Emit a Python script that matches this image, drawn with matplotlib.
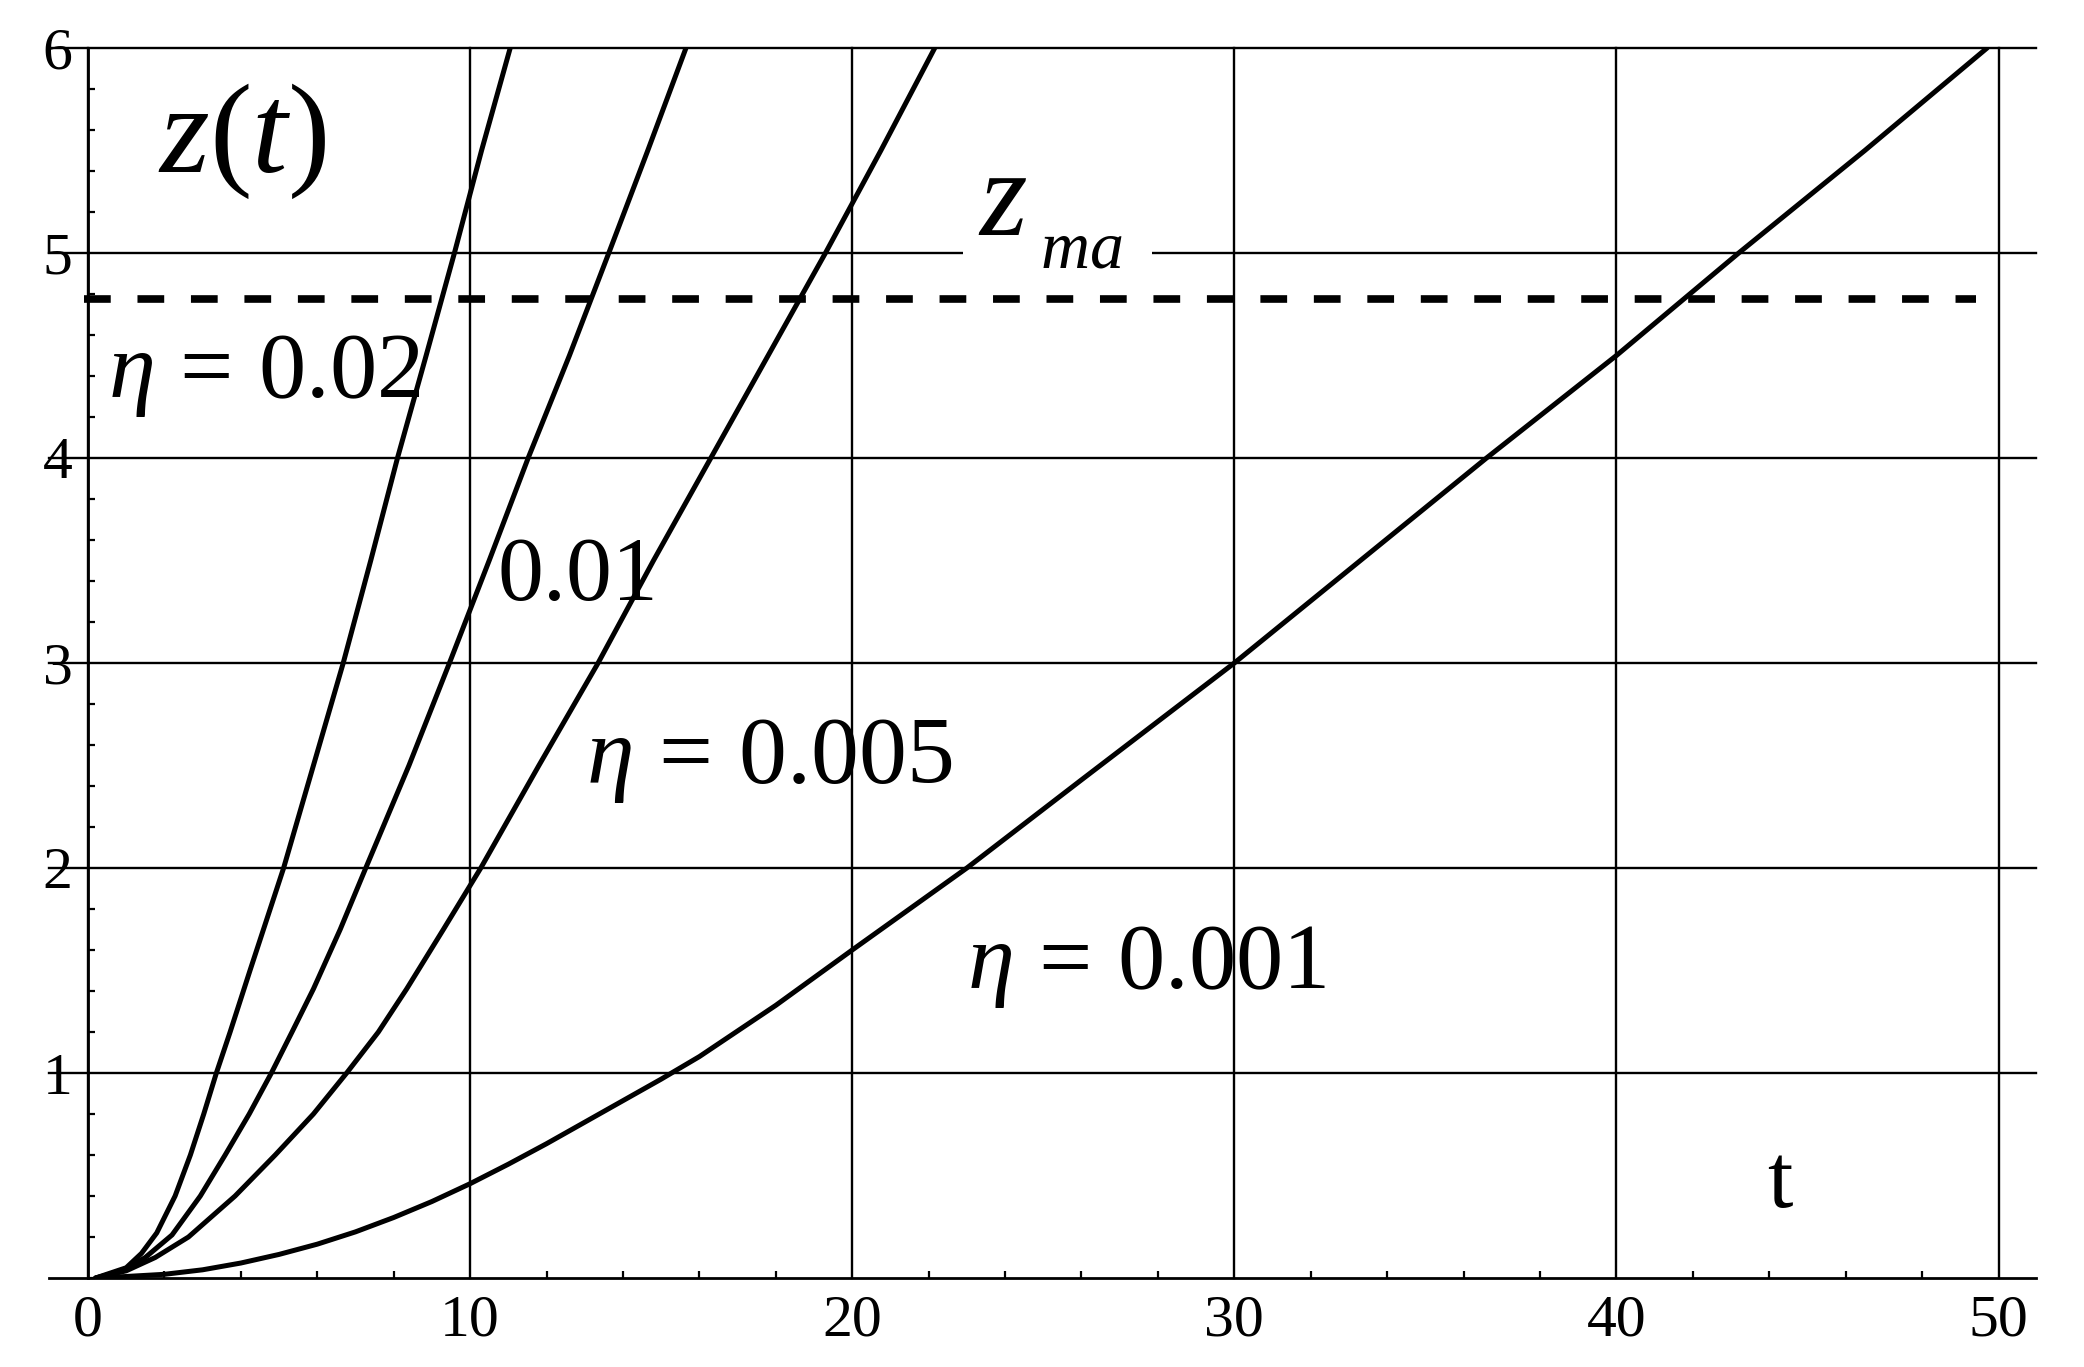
import matplotlib
matplotlib.use('Agg')
import matplotlib.pyplot as plt
from matplotlib.ticker import MultipleLocator
from matplotlib.patches import Rectangle

plt.rcParams['font.family'] = ['Liberation Serif', 'DejaVu Serif']
plt.rcParams['mathtext.fontset'] = 'custom'
plt.rcParams['mathtext.rm'] = 'Liberation Serif'
plt.rcParams['mathtext.it'] = 'Liberation Serif:italic'
plt.rcParams['mathtext.bf'] = 'Liberation Serif:bold'

# ---- data ----
t_eta002 = [0.2, 1.0, 1.4, 1.8, 2.28, 2.68, 3.03, 3.36, 3.72, 4.24, 5.12, 5.9, 6.68, 7.4, 8.1, 8.85, 9.59, 10.3, 11.05]
z_eta002 = [0.0, 0.05, 0.12, 0.22, 0.4, 0.6, 0.8, 1.0, 1.2, 1.5, 2.0, 2.5, 3.0, 3.5, 4.0, 4.5, 5.0, 5.5, 6.0]

t_eta001 = [0.2, 0.9, 1.5, 2.2, 2.94, 3.59, 4.22, 4.8, 5.34, 5.9, 6.6, 7.27, 8.4, 9.46, 10.5, 11.52, 12.6, 13.63, 14.65, 15.65]
z_eta001 = [0.0, 0.035, 0.1, 0.21, 0.4, 0.6, 0.8, 1.0, 1.2, 1.41, 1.7, 2.0, 2.5, 3.0, 3.5, 4.0, 4.5, 5.0, 5.5, 6.0]

t_eta0005 = [0.2, 1.0, 1.76, 2.63, 3.85, 4.9, 5.9, 6.77, 7.6, 8.34, 9.3, 10.28, 11.8, 13.35, 14.8, 16.3, 17.8, 19.3, 20.75, 22.16]
z_eta0005 = [0.0, 0.035, 0.1, 0.2, 0.4, 0.6, 0.8, 1.0, 1.2, 1.41, 1.7, 2.0, 2.5, 3.0, 3.5, 4.0, 4.5, 5.0, 5.5, 6.0]

t_eta0001 = [0.3, 2, 3, 4, 5, 6, 7, 8, 9, 10, 11, 12, 13, 14, 15, 16, 18, 20, 23, 26, 30, 33.3, 36.6, 40, 43.2, 46.5, 49.7]
z_eta0001 = [0.0, 0.018, 0.04, 0.073, 0.115, 0.165, 0.225, 0.295, 0.373, 0.46, 0.555, 0.655, 0.76, 0.865,
             0.97, 1.08, 1.33, 1.6, 2.0, 2.43, 3.0, 3.5, 4.0, 4.5, 5.0, 5.5, 6.0]

zmax_value = 4.775
zmax_t = [-0.1, 49.4]

x_ticks = [0, 10, 20, 30, 40, 50]
y_ticks = [1, 2, 3, 4, 5, 6]

curve_labels = [r'$\eta\,=\,0.02$', r'$0.01$', r'$\eta\,=\,0.005$', r'$\eta\,=\,0.001$']

# ---- figure ----
W, H = 2084, 1367
fig = plt.figure(figsize=(W / 100, H / 100), dpi=100)
fig.patch.set_facecolor('white')


def px(x, y):
    return x / W, 1 - y / H


ax = fig.add_axes([49 / W, (H - 1278) / H, (2036 - 49) / W, 1230 / H])
ax.set_xlim(-1.02, 50.98)
ax.set_ylim(0, 6)

curve_kw = dict(color='black', lw=3.6, solid_capstyle='round', solid_joinstyle='round', zorder=3)
for tt, zz in [(t_eta002, z_eta002), (t_eta001, z_eta001), (t_eta0005, z_eta0005), (t_eta0001, z_eta0001)]:
    ax.plot(tt, zz, **curve_kw)

ax.plot(zmax_t, [zmax_value, zmax_value], color='black', lw=5.5,
        linestyle=(0, (3.5, 3.5)), dash_capstyle='butt', zorder=4)

# axes / spines
for s in ['top', 'right']:
    ax.spines[s].set_visible(False)
ax.spines['left'].set_position(('data', 0))
ax.spines['left'].set_linewidth(2.0)
ax.spines['bottom'].set_linewidth(2.0)

ax.set_xticks(x_ticks)
ax.set_yticks(y_ticks)
ax.set_xticklabels([str(v) for v in x_ticks])
ax.set_yticklabels([str(v) for v in y_ticks])
ax.xaxis.set_minor_locator(MultipleLocator(2))
ax.yaxis.set_minor_locator(MultipleLocator(0.2))
ax.tick_params(which='major', length=0, labelsize=43)
ax.tick_params(axis='x', which='major', pad=12)
ax.tick_params(axis='y', which='major', pad=11)
ax.tick_params(which='minor', direction='in', length=5, width=1.6, color='black')

ax.set_axisbelow(True)
ax.grid(True, which='major', color='black', lw=1.7)
for gl in ax.get_ygridlines() + ax.get_xgridlines():
    gl.set_clip_on(False)

# ---- texts ----
tk = dict(transform=fig.transFigure, ha='left', va='baseline', color='black', zorder=0.2)
ax.text(*px(158, 172), r'$z(t)$', fontsize=92, **tk)
ax.text(*px(108, 397), curve_labels[0], fontsize=68, **tk)
ax.text(*px(497, 600), curve_labels[1], fontsize=66, **tk)
ax.text(*px(586, 783), curve_labels[2], fontsize=69, **tk)
ax.text(*px(967, 988), curve_labels[3], fontsize=68, **tk)
ax.text(*px(1767, 1207), 't', fontsize=66, **tk)

# z_max label with white gap in the gridline
ax.add_patch(Rectangle(px(963, 272), 189 / W, 100 / H, transform=fig.transFigure,
                       facecolor='white', edgecolor='none', zorder=0.8, clip_on=False))
zk = dict(tk)
zk['zorder'] = 1
ax.text(*px(978, 235), r'$z$', fontsize=88, **zk)
ax.text(*px(1040, 267), r'$ma$', fontsize=49, **zk)

fig.savefig('out.png', dpi=100, facecolor='white')
